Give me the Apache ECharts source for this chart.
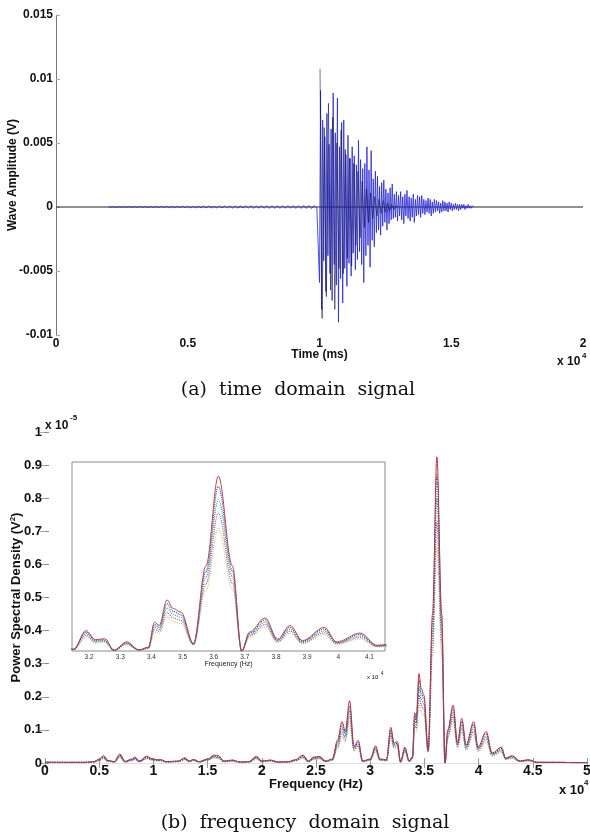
<!DOCTYPE html>
<html><head><meta charset="utf-8">
<script src="https://cdn.jsdelivr.net/npm/echarts@6/dist/echarts.min.js"></script>
<style>html,body{margin:0;padding:0;background:#fff}#c{width:590px;height:836px}</style>
</head><body><div id="c"></div>
<script>
// ---------- (a) time domain signal ----------
var timeFlatT = [0, 20000];
var timeFlatV = [0, 0];
var noiseStart = 2000, noiseStep = 100;
var noiseV = [0.00002,-0.00002,0.00002,-0.00003,0.00002,-0.00002,0.00003,-0.00002,0.00003,-0.00003,
  0.00003,-0.00003,0.00004,-0.00003,0.00004,-0.00004,0.00003,-0.00004,0.00004,-0.00004,
  0.00005,-0.00004,0.00005,-0.00005,0.00004,-0.00005,0.00005,-0.00005,0.00006,-0.00005,
  0.00006,-0.00006,0.00005,-0.00006,0.00006,-0.00006,0.00007,-0.00006,0.00007,-0.00007,
  0.00006,-0.00007,0.00007,-0.00007,0.00008,-0.00007,0.00008,-0.00008,0.00007,-0.00008,
  0.00008,-0.00008,0.00009,-0.00008,0.00009,-0.00009,0.00008,-0.00009,0.00009,-0.00009,
  0.0001,-0.00009,0.0001,-0.0001,0.00009,-0.0001,0.0001,-0.0001,0.00011,-0.0001,
  0.00011,-0.00011,0.0001,-0.00011,0.00012,-0.00011,0.00012,-0.00012,0.00011,-0.0001];
var burstStart = 10000, burstStep = 40;
var burstV = [-0.0059,0.0091,-0.0080,0.0068,-0.0042,0.0055,-0.0066,0.0073,-0.0038,0.0049,
  -0.0052,0.0061,-0.0073,0.0089,-0.0045,0.0058,-0.0061,0.0085,-0.0090,0.0047,
  -0.0056,0.0066,-0.0075,0.0068,-0.0048,0.0041,-0.0062,0.0056,-0.0044,0.0038,
  -0.0054,0.0047,-0.0036,0.0040,-0.0049,0.0033,-0.0041,0.0052,-0.0035,0.0037,
  -0.0045,0.0030,-0.0059,0.0034,-0.0038,0.0047,-0.0030,0.0029,-0.0047,0.0044,
  -0.0026,0.0022,-0.0031,0.0028,-0.0020,0.0024,-0.0018,0.0016,-0.0022,0.0019,
  -0.0015,0.0021,-0.0012,0.0014,-0.0018,0.0011,-0.0013,0.0015,-0.0010,0.0018,
  -0.0009,0.0010,-0.0008,0.0012,-0.0011,0.0009,-0.0007,0.0012,-0.0010,0.0008,
  -0.0013,0.0010,-0.0007,0.0013,-0.0009,0.0008,-0.0011,0.0007,-0.0008,0.0010,
  -0.0012,0.0006,-0.0007,0.0009,-0.0006,0.0008,-0.0008,0.0009,-0.0005,0.0006,
  -0.0006,0.0005,-0.0004,0.0007,-0.0005,0.0006,-0.0007,0.0004,-0.0005,0.0006,
  -0.0004,0.0005,-0.0003,0.0004,-0.0005,0.0003,-0.0004,0.0005,-0.0003,0.0004,
  -0.0003,0.0003,-0.0004,0.0004,-0.0002,0.0003,-0.0003,0.0002,-0.0002,0.0003,
  -0.0002,0.0002,-0.0003,0.0002,-0.0002,0.0002,-0.0001,0.0002,-0.0002,0.0001,
  -0.0001,0.0002,-0.0001,0.0001,-0.0001,0.0001,0];
var blackStart = 10020, blackStep = 80;
var blackV = [0.0108,-0.0087,0.0062,-0.0070,0.0081,-0.0065,0.0070,-0.0080,0.0050,-0.0048,
  0.0060,-0.0052,0.0045,-0.0040,0.0038,-0.0046,0.0034,-0.0030,0.0028,-0.0024,
  0.0020,-0.0016,0.0014,-0.0012,0.0011,-0.0009,0.0008,-0.0007,0.0006,-0.0005,
  0.0005,-0.0004,0.0003,-0.0003,0.0002,-0.0002,0.0001,0];

// ---------- (b) frequency domain signal (PSD, x 10^-5 V^2) ----------
var specFreq = [0,1500,3500,4500,5000,5400,5800,6400,6900,7400,8000,8300,8700,9400,9800,
  10300,10700,11200,12300,12900,13300,13700,14200,15000,15600,16000,16500,17300,18000,18800,
  19500,20000,20800,21500,22500,23100,23800,24300,24800,25300,25900,26500,27000,27400,27700,
  28100,28500,28900,29300,30000,30500,30900,31500,31900,32200,32500,32800,33200,33600,33900,
  34100,34250,34500,34700,34950,35350,35750,36150,36600,36900,37150,37650,38050,38450,38850,
  39550,39950,40700,41250,42100,42500,43100,43800,44600,45400,50000];
var specA = [0.003,0.002,0.002,0.004,0.012,0.022,0.008,0.004,0.027,0.005,0.012,0.018,0.006,0.021,0.014,
  0.010,0.010,0.004,0.006,0.016,0.006,0.011,0.004,0.012,0.024,0.022,0.006,0.009,0.003,0.004,
  0.020,0.006,0.009,0.003,0.004,0.010,0.024,0.006,0.018,0.020,0.006,0.012,0.070,0.125,0.095,
  0.188,0.050,0.068,0.006,0.012,0.052,0.012,0.010,0.108,0.060,0.065,0.004,0.048,0.006,0.020,
  0.152,0.135,0.270,0.225,0.205,0.040,0.450,0.925,0.450,0.000,0.100,0.175,0.062,0.135,0.055,
  0.125,0.048,0.095,0.030,0.048,0.015,0.022,0.006,0.010,0.002,0.001];
var specB = [0.002,0.002,0.002,0.003,0.010,0.019,0.007,0.004,0.024,0.004,0.010,0.016,0.005,0.018,0.012,
  0.009,0.009,0.004,0.005,0.014,0.005,0.010,0.004,0.011,0.021,0.019,0.005,0.008,0.003,0.004,
  0.018,0.005,0.008,0.003,0.004,0.009,0.021,0.005,0.016,0.018,0.005,0.011,0.062,0.115,0.088,
  0.172,0.046,0.062,0.006,0.011,0.047,0.011,0.009,0.100,0.056,0.060,0.004,0.044,0.006,0.018,
  0.140,0.125,0.250,0.210,0.192,0.038,0.420,0.870,0.425,0.000,0.094,0.165,0.058,0.125,0.051,
  0.116,0.045,0.088,0.028,0.044,0.014,0.020,0.006,0.009,0.002,0.001];
var specC = [0.002,0.002,0.002,0.003,0.009,0.017,0.006,0.003,0.021,0.004,0.009,0.014,0.005,0.016,0.011,
  0.008,0.008,0.003,0.005,0.012,0.005,0.009,0.003,0.010,0.019,0.017,0.005,0.007,0.003,0.003,
  0.016,0.005,0.007,0.003,0.003,0.008,0.019,0.005,0.014,0.016,0.005,0.010,0.056,0.104,0.080,
  0.158,0.043,0.057,0.005,0.010,0.043,0.010,0.008,0.092,0.052,0.055,0.003,0.040,0.005,0.016,
  0.128,0.115,0.228,0.192,0.178,0.036,0.390,0.800,0.395,0.000,0.087,0.152,0.054,0.115,0.047,
  0.106,0.042,0.080,0.026,0.040,0.013,0.018,0.005,0.008,0.002,0.001];
var specD = [0.002,0.001,0.001,0.002,0.008,0.015,0.005,0.003,0.019,0.003,0.008,0.012,0.004,0.014,0.010,
  0.007,0.007,0.003,0.004,0.011,0.004,0.008,0.003,0.009,0.017,0.015,0.004,0.006,0.002,0.003,
  0.014,0.004,0.006,0.002,0.003,0.007,0.017,0.004,0.012,0.014,0.004,0.009,0.050,0.092,0.072,
  0.142,0.040,0.052,0.005,0.009,0.039,0.009,0.007,0.083,0.048,0.050,0.003,0.036,0.005,0.014,
  0.115,0.105,0.205,0.175,0.162,0.034,0.355,0.730,0.360,0.000,0.080,0.140,0.050,0.105,0.043,
  0.096,0.039,0.072,0.024,0.036,0.012,0.016,0.005,0.007,0.002,0.001];
var specE = [0.001,0.001,0.001,0.002,0.007,0.013,0.004,0.002,0.016,0.003,0.007,0.010,0.004,0.012,0.008,
  0.006,0.006,0.002,0.004,0.009,0.004,0.007,0.002,0.008,0.014,0.013,0.004,0.005,0.002,0.002,
  0.012,0.004,0.005,0.002,0.002,0.006,0.014,0.004,0.010,0.012,0.004,0.008,0.043,0.080,0.064,
  0.125,0.036,0.046,0.004,0.008,0.034,0.008,0.006,0.074,0.043,0.045,0.002,0.032,0.004,0.012,
  0.100,0.093,0.180,0.155,0.145,0.032,0.320,0.650,0.325,0.000,0.072,0.126,0.046,0.094,0.039,
  0.086,0.035,0.064,0.021,0.032,0.011,0.014,0.004,0.006,0.001,0.001];
var insetTicks = [32000,33000,34000,35000,36000,37000,38000,39000,40000,41000];

// ---------- build ----------
function pairs(xs, ys){ var n=Math.min(xs.length, ys.length), o=[]; for(var i=0;i<n;i++) o.push([xs[i], ys[i]]); return o; }
function sampled(start, step, ys){ return ys.map(function(v,i){ return [start + i*step, v]; }); }
var blueData = sampled(noiseStart, noiseStep, noiseV).concat(sampled(burstStart, burstStep, burstV));
var blackData = sampled(blackStart, blackStep, blackV);

var specSets = [
  {d: specE, c: '#cfc77a', t: 'dotted', w: 1.2},
  {d: specD, c: '#b04cb0', t: 'dotted', w: 1.2},
  {d: specC, c: '#2fa87a', t: 'dotted', w: 1.2},
  {d: specB, c: '#2646b8', t: 'dotted', w: 1.2},
  {d: specA, c: '#b8323e', t: 'solid', w: 1.0}
];

var FF = 'Liberation Sans, Arial, sans-serif';
var bold = {fontFamily: FF, fontWeight: 'bold', color: '#111'};
function mix(a,b){ var o={}; for(var k in a) o[k]=a[k]; for(var k2 in b) o[k2]=b[k2]; return o; }
function txt(x, y, s, size, w, extra){ return {type:'text', x:x, y:y, z:10, style:mix({text:s, fontSize:size, fontWeight:w||'bold', fontFamily:FF, fill:'#111'}, extra||{})}; }

var series = [];
series.push({type:'line', xAxisIndex:0, yAxisIndex:0, data: pairs(timeFlatT, timeFlatV), showSymbol:false,
  lineStyle:{color:'#222', width:1}, animation:false, silent:true});
series.push({type:'line', xAxisIndex:0, yAxisIndex:0, data: blueData, showSymbol:false,
  lineStyle:{color:'#2626d4', width:0.9, opacity:0.9}, animation:false, silent:true});
series.push({type:'line', xAxisIndex:0, yAxisIndex:0, data: blackData, showSymbol:false,
  lineStyle:{color:'#14143c', width:0.7, opacity:0.85}, animation:false, silent:true});
specSets.forEach(function(s){
  series.push({type:'line', xAxisIndex:1, yAxisIndex:1, data: pairs(specFreq, s.d), showSymbol:false, smooth:0.35, smoothMonotone:'x',
    lineStyle:{color:s.c, width:s.w, type:s.t}, animation:false, silent:true});
  series.push({type:'line', xAxisIndex:3, yAxisIndex:3, data: pairs(specFreq, s.d), showSymbol:false, smooth:0.35, smoothMonotone:'x', clip:true,
    lineStyle:{color:s.c, width:s.w*0.9, type:s.t}, animation:false, silent:true});
});

var chart = echarts.init(document.getElementById('c'), null, {renderer:'canvas'});
chart.setOption({
  backgroundColor:'#fff',
  animation:false,
  grid:[
    {left:56, width:527, top:15, height:320, outerBoundsMode:'none', containLabel:false},
    {left:45, width:542, top:432, height:331, outerBoundsMode:'none', containLabel:false},
    {left:72, width:313, top:462, height:189, outerBoundsMode:'none', containLabel:false, show:true, borderColor:'#8a8a8a', borderWidth:1, backgroundColor:'#fff', z:3}
  ],
  xAxis:[
    {gridIndex:0, type:'value', min:0, max:20000, interval:5000,
     axisLine:{show:false}, axisTick:{show:false}, splitLine:{show:false},
     axisLabel:mix(bold,{fontSize:12, margin:3, formatter:function(v){return String(v/10000);}}),
     name:'Time (ms)', nameLocation:'middle', nameGap:14, nameMoveOverlap:false, nameTextStyle:mix(bold,{fontSize:12})},
    {gridIndex:1, type:'value', min:0, max:50000, interval:5000,
     axisLine:{show:true, lineStyle:{color:'#cfcfcf'}}, axisTick:{show:true, inside:true, length:5, lineStyle:{color:'#999'}}, splitLine:{show:false},
     axisLabel:mix(bold,{fontSize:14, margin:1, formatter:function(v){return String(v/10000);}}),
     name:'Frequency (Hz)', nameLocation:'middle', nameGap:15, nameMoveOverlap:false, nameTextStyle:mix(bold,{fontSize:13})},
    {gridIndex:1, type:'value', position:'top', min:0, max:50000, interval:5000,
     axisLine:{show:true, lineStyle:{color:'#e0e0e0'}}, axisTick:{show:true, inside:true, length:5, lineStyle:{color:'#999'}},
     axisLabel:{show:false}, splitLine:{show:false}},
    {gridIndex:2, type:'value', min:31450, max:41500,
     axisLine:{show:false}, axisTick:{show:true, inside:true, length:3, customValues:insetTicks, lineStyle:{color:'#888'}}, splitLine:{show:false},
     axisLabel:{fontSize:6.5, margin:3, color:'#333', fontFamily:FF, customValues:insetTicks, formatter:function(v){return String(Math.round(v/100)/100);}},
     name:'Frequency (Hz)', nameLocation:'middle', nameGap:10, nameMoveOverlap:false, nameTextStyle:{fontSize:7, color:'#222', fontFamily:FF}},
    {gridIndex:2, type:'value', position:'top', min:31450, max:41500,
     axisLine:{show:false}, axisTick:{show:true, inside:true, length:3, customValues:insetTicks, lineStyle:{color:'#777'}},
     axisLabel:{show:false}, splitLine:{show:false}}
  ],
  yAxis:[
    {gridIndex:0, type:'value', min:-0.01, max:0.015, interval:0.005,
     axisLine:{show:true, lineStyle:{color:'#7a7a7a'}}, axisTick:{show:true, inside:true, length:4, lineStyle:{color:'#aaa'}}, splitLine:{show:false},
     axisLabel:mix(bold,{fontSize:12, margin:3, formatter:function(v){return String(Math.round(v*1000)/1000);}}),
     name:'Wave Amplitude (V)', nameLocation:'middle', nameGap:37, nameMoveOverlap:false, nameRotate:90, nameTextStyle:mix(bold,{fontSize:12})},
    {gridIndex:1, type:'value', min:0, max:1, interval:0.1,
     axisLine:{show:false}, axisTick:{show:true, inside:true, length:4, lineStyle:{color:'#888'}}, splitLine:{show:false},
     axisLabel:mix(bold,{fontSize:13, margin:3, formatter:function(v){ if (Math.abs(v)<1e-9) return '0'; if (Math.abs(v-1)<1e-9) return '1'; return v.toFixed(1);}}),
     name:'Power Spectral Density (V{sup|2})', nameLocation:'middle', nameGap:22, nameMoveOverlap:false, nameRotate:90,
     nameTextStyle:mix(bold,{fontSize:13, rich:{sup:{fontSize:8, fontWeight:'bold', fontFamily:FF, color:'#111', verticalAlign:'top', padding:[0,0,6,0]}}})},
    {gridIndex:1, type:'value', position:'right', min:0, max:1, interval:0.1,
     axisLine:{show:false}, axisTick:{show:true, inside:true, length:5, lineStyle:{color:'#aaa'}}, axisLabel:{show:false}, splitLine:{show:false}},
    {gridIndex:2, type:'value', min:0, max:1,
     axisLine:{show:false}, axisTick:{show:false}, axisLabel:{show:false}, splitLine:{show:false}}
  ],
  series: series,
  graphic:[
    txt(557, 356, 'x 10', 12),
    txt(582, 352, '4', 8),
    txt(559, 784, 'x 10', 13),
    txt(584, 779, '4', 8),
    txt(45, 420, 'x 10', 12),
    txt(70, 414, '-5', 8),
    txt(367, 674, 'x 10', 6, 'normal'),
    txt(381, 671, '4', 4.5, 'normal'),
    {type:'text', x:298, y:390, z:10, style:{text:'(a)  time  domain  signal', fontSize:19, fill:'#111', fontFamily:'DejaVu Serif, serif', align:'center', verticalAlign:'middle'}},
    {type:'text', x:305, y:823, z:10, style:{text:'(b)  frequency  domain  signal', fontSize:19, fill:'#111', fontFamily:'DejaVu Serif, serif', align:'center', verticalAlign:'middle'}}
  ]
});
</script></body></html>
